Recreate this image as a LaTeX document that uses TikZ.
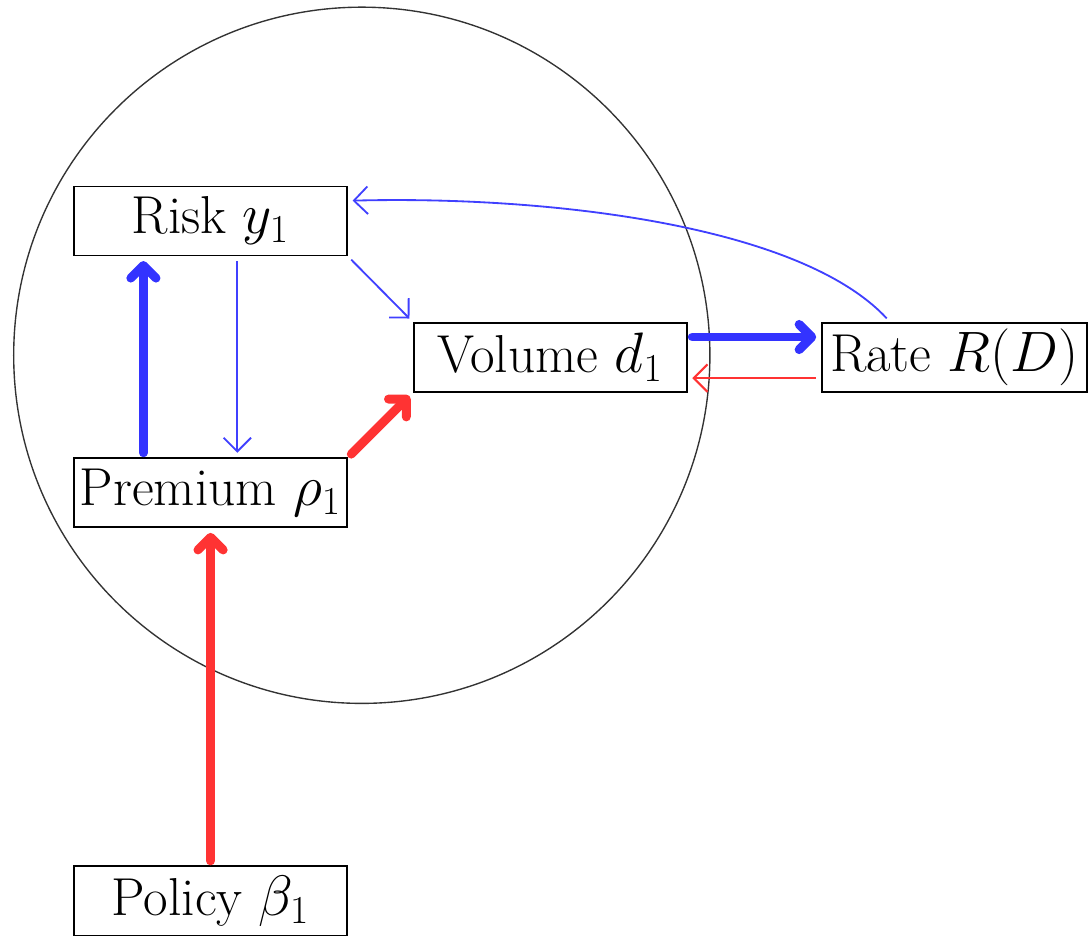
\documentclass[tikz,border=0pt]{standalone}
\usepackage{amsmath,amssymb}
\usepackage{tikz}
\usetikzlibrary{arrows.meta,positioning,calc}

\begin{document}
\begin{tikzpicture}[
    box/.style={rectangle, draw, thick, minimum width=4.19cm, minimum height=1.06cm, inner sep=2pt, align=center, font=\fontsize{23.3}{28}\selectfont},
    bluethick/.style={-{Straight Barb[round, length=5.5pt, width=11pt]}, line width=3.9pt, line cap=round, draw=blue!80, shorten >=2pt, shorten <=2pt},
    redthick/.style={-{Straight Barb[round, length=5.5pt, width=11pt]}, line width=3.9pt, line cap=round, draw=red!80, shorten >=2pt, shorten <=2pt},
    bluethin/.style={-{Straight Barb[length=6pt, width=12pt]}, line width=0.8pt, draw=blue!75, shorten >=2pt, shorten <=2pt},
    redthin/.style={-{Straight Barb[length=6pt, width=12pt]}, line width=0.9pt, draw=red!80, shorten >=2pt, shorten <=2pt}
]
\useasboundingbox (-5.52,-8.90) rectangle (11.17,5.45);

% Market circle
\draw[semithick, black!80] (0.03,0) circle (5.34cm);

% Nodes
\node[box] (risk) at (-2.29, 2.06) {Risk $y_1$};
\node[box] (premium) at (-2.29, -2.11) {Premium $\rho_1$};
\node[box] (volume) at (2.92, -0.03) {Volume $d_1$};
\node[box, minimum width=4.07cm] (rate) at (9.12, -0.03) {Rate $R(D)$};
\node[box] (policy) at (-2.29, -8.37) {Policy $\beta_1$};

% Arrows
\draw[bluethick] ([xshift=-1.03cm]premium.north) -- ([xshift=-1.03cm]risk.south);
\draw[bluethin] ([xshift=0.41cm]risk.south) -- ([xshift=0.41cm]premium.north);
\draw[bluethin] (risk.south east) -- (volume.north west);
\draw[redthick] (premium.north east) -- (volume.south west);
\draw[redthick] (policy.north) -- (premium.south);
\draw[bluethick] ([yshift=0.31cm]volume.east) -- ([yshift=0.31cm]rate.west);
\draw[redthin] ([yshift=-0.32cm]rate.west) -- ([yshift=-0.32cm]volume.east);
\draw[bluethin] ([xshift=-0.99cm]rate.north) .. controls +(-1.38,1.49) and +(3.04,0.08) .. ([yshift=0.31cm]risk.east);

\end{tikzpicture}
\end{document}
